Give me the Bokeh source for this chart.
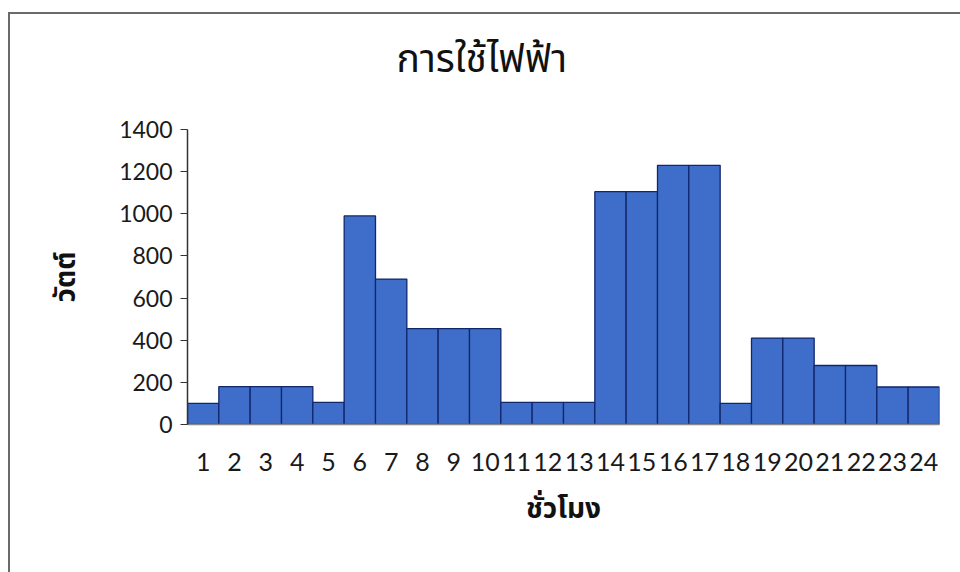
from bokeh.plotting import figure
from bokeh.models import Range1d, FactorRange, SingleIntervalTicker, ColumnDataSource, InlineStyleSheet
from bokeh.embed import file_html
from bokeh.resources import INLINE

hours = [str(h) for h in range(1, 25)]
watts = [100, 180, 180, 180, 105, 990, 690, 455, 455, 455, 105, 105, 105,
         1105, 1105, 1230, 1230, 100, 410, 410, 280, 280, 178, 178]

title_text = "การใช้ไฟฟ้า"
x_title = "ชั่วโมง"
y_title = "วัตต์"

THAI = "Noto Sans Thai"

src = ColumnDataSource(dict(x=hours, y=watts))

frame_css = InlineStyleSheet(css="""
:host { position: relative; }
:host::after {
  content: "";
  position: absolute;
  left: 8px; top: 21px; right: 0; bottom: 0;
  border-left: 2px solid #6a6a6a;
  border-top: 2px solid #6a6a6a;
  pointer-events: none;
  z-index: 50;
}
""")

p = figure(width=960, height=581, x_range=FactorRange(*hours),
           y_range=Range1d(0, 1400), output_backend="svg", toolbar_location=None,
           min_border_left=187, min_border_right=21, min_border_top=138,
           min_border_bottom=148)
p.styles = {"margin-top": "-9px"}
p.stylesheets = [frame_css]

p.vbar(x="x", top="y", width=1.0, bottom=0, source=src,
       fill_color="#3e6ec9", line_color="#12266b", line_width=1.3)

p.title.text = title_text
p.title.align = "left"
p.title.offset = 209
p.title.vertical_align = "top"
p.title.standoff = 76
p.title.text_font = THAI
p.title.text_font_size = "39px"
p.title.text_font_style = "normal"
p.title.text_color = "#111111"

p.outline_line_color = None
p.xgrid.grid_line_color = None
p.ygrid.grid_line_color = None

p.yaxis.ticker = SingleIntervalTicker(interval=200)
p.yaxis.minor_tick_line_color = None
p.yaxis.major_tick_in = 0
p.yaxis.major_tick_out = 7
p.yaxis.major_tick_line_color = "#333333"
p.yaxis.axis_line_color = "#333333"
p.yaxis.axis_line_width = 1.5
p.yaxis.major_label_text_font = "Lato"
p.yaxis.major_label_text_font_size = "23px"
p.yaxis.major_label_text_color = "#1a1a1a"
p.yaxis.major_label_standoff = 8
p.yaxis.axis_label = y_title
p.yaxis.axis_label_text_font = THAI
p.yaxis.axis_label_text_font_size = "28px"
p.yaxis.axis_label_text_font_style = "bold"
p.yaxis.axis_label_text_color = "#111111"
p.yaxis.axis_label_standoff = 28

p.xaxis.major_tick_line_color = None
p.xaxis.minor_tick_line_color = None
p.xaxis.axis_line_color = "#888888"
p.xaxis.axis_line_width = 1.5
p.xaxis.major_label_text_font = "Lato"
p.xaxis.major_label_text_font_size = "25px"
p.xaxis.major_label_text_color = "#1a1a1a"
p.xaxis.major_label_standoff = 22
p.xaxis.axis_label = x_title
p.xaxis.axis_label_text_font = THAI
p.xaxis.axis_label_text_font_size = "28px"
p.xaxis.axis_label_text_font_style = "bold"
p.xaxis.axis_label_text_color = "#111111"
p.xaxis.axis_label_standoff = 14

open("out.html", "w").write(file_html(p, INLINE))
